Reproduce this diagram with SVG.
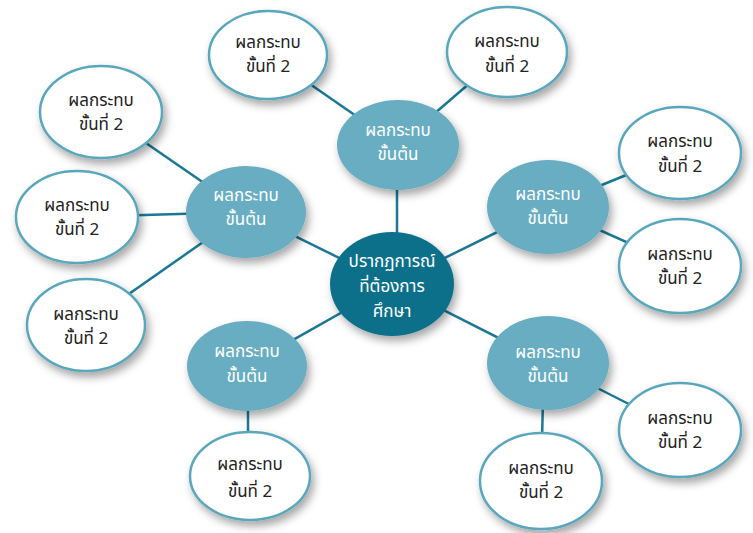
<svg xmlns="http://www.w3.org/2000/svg" width="753" height="533" viewBox="0 0 753 533">
  <defs>
    <filter id="sh" x="-30%" y="-30%" width="170%" height="170%">
      <feDropShadow dx="3" dy="5" stdDeviation="4" flood-color="#000" flood-opacity="0.35"/>
    </filter>
  </defs>
  <style>
    .edge { stroke: #1b7895; stroke-width: 2.5; fill: none; }
    .core { fill: #0f6f8b; filter: url(#sh); }
    .pri { fill: #67adc2; filter: url(#sh); }
    .sec { fill: #ffffff; stroke: #5aa7bd; stroke-width: 2.5; filter: url(#sh); }
    text { font-family: "Noto Sans Thai", "Noto Sans", "DejaVu Sans", sans-serif; font-size: 17px; text-anchor: middle; }
    .lt { fill: #ffffff; }
    .dk { fill: #222222; }
  </style>
  <rect width="753" height="533" fill="#ffffff"/>
  <g id="connectors">
    <line class="edge" x1="397" y1="185" x2="397" y2="236"/>
    <line class="edge" x1="392" y1="284" x2="246" y2="212"/>
    <line class="edge" x1="392" y1="284" x2="548" y2="207"/>
    <line class="edge" x1="392" y1="284" x2="247" y2="366"/>
    <line class="edge" x1="392" y1="284" x2="548" y2="363"/>
    <line class="edge" x1="398" y1="145" x2="268" y2="55"/>
    <line class="edge" x1="398" y1="145" x2="507" y2="51"/>
    <line class="edge" x1="246" y1="212" x2="101" y2="112"/>
    <line class="edge" x1="246" y1="212" x2="77" y2="217"/>
    <line class="edge" x1="246" y1="212" x2="86" y2="324"/>
    <line class="edge" x1="548" y1="207" x2="680" y2="153"/>
    <line class="edge" x1="548" y1="207" x2="680" y2="266"/>
    <line class="edge" x1="548" y1="363" x2="680" y2="430"/>
    <line class="edge" x1="543" y1="400" x2="542" y2="440"/>
    <line class="edge" x1="248" y1="400" x2="248" y2="440"/>
  </g>
  <g id="n-center">
    <ellipse class="core" cx="392" cy="284" rx="62" ry="52"/>
    <text class="lt" x="392" y="267">ปรากฏการณ์</text>
    <text class="lt" x="392" y="292">ที่ต้องการ</text>
    <text class="lt" x="392" y="317">ศึกษา</text>
  </g>
  <g id="p-top">
    <ellipse class="pri" cx="398" cy="145" rx="61" ry="45"/>
    <text class="lt" x="398" y="136">ผลกระทบ</text>
    <text class="lt" x="398" y="160">ขั้นต้น</text>
  </g>
  <g id="p-left">
    <ellipse class="pri" cx="246" cy="212" rx="60" ry="46"/>
    <text class="lt" x="246" y="201">ผลกระทบ</text>
    <text class="lt" x="246" y="225">ขั้นต้น</text>
  </g>
  <g id="p-right">
    <ellipse class="pri" cx="548" cy="207" rx="61" ry="47"/>
    <text class="lt" x="548" y="200">ผลกระทบ</text>
    <text class="lt" x="548" y="224">ขั้นต้น</text>
  </g>
  <g id="p-bottom-left">
    <ellipse class="pri" cx="247" cy="366" rx="60" ry="45"/>
    <text class="lt" x="247" y="357">ผลกระทบ</text>
    <text class="lt" x="247" y="382">ขั้นต้น</text>
  </g>
  <g id="p-bottom-right">
    <ellipse class="pri" cx="548" cy="363" rx="61" ry="47"/>
    <text class="lt" x="548" y="358">ผลกระทบ</text>
    <text class="lt" x="548" y="382">ขั้นต้น</text>
  </g>
  <g id="s-top-left">
    <ellipse class="sec" cx="268" cy="55" rx="59" ry="44"/>
    <text class="dk" x="268" y="48">ผลกระทบ</text>
    <text class="dk" x="268" y="72">ขั้นที่ 2</text>
  </g>
  <g id="s-top-right">
    <ellipse class="sec" cx="507" cy="52" rx="60" ry="45"/>
    <text class="dk" x="507" y="47">ผลกระทบ</text>
    <text class="dk" x="507" y="72">ขั้นที่ 2</text>
  </g>
  <g id="s-left-1">
    <ellipse class="sec" cx="101" cy="112" rx="61" ry="46"/>
    <text class="dk" x="101" y="106">ผลกระทบ</text>
    <text class="dk" x="101" y="130">ขั้นที่ 2</text>
  </g>
  <g id="s-left-2">
    <ellipse class="sec" cx="77" cy="217" rx="61" ry="46"/>
    <text class="dk" x="77" y="211">ผลกระทบ</text>
    <text class="dk" x="77" y="235">ขั้นที่ 2</text>
  </g>
  <g id="s-left-3">
    <ellipse class="sec" cx="86" cy="325" rx="59" ry="46"/>
    <text class="dk" x="86" y="320">ผลกระทบ</text>
    <text class="dk" x="86" y="344">ขั้นที่ 2</text>
  </g>
  <g id="s-right-1">
    <ellipse class="sec" cx="680" cy="153" rx="61" ry="46"/>
    <text class="dk" x="680" y="147">ผลกระทบ</text>
    <text class="dk" x="680" y="172">ขั้นที่ 2</text>
  </g>
  <g id="s-right-2">
    <ellipse class="sec" cx="680" cy="266" rx="61" ry="47"/>
    <text class="dk" x="680" y="260">ผลกระทบ</text>
    <text class="dk" x="680" y="284">ขั้นที่ 2</text>
  </g>
  <g id="s-bottom-right-1">
    <ellipse class="sec" cx="680" cy="430" rx="61" ry="47"/>
    <text class="dk" x="680" y="424">ผลกระทบ</text>
    <text class="dk" x="680" y="448">ขั้นที่ 2</text>
  </g>
  <g id="s-bottom-right-2">
    <ellipse class="sec" cx="541" cy="481" rx="61" ry="48"/>
    <text class="dk" x="541" y="474">ผลกระทบ</text>
    <text class="dk" x="541" y="498">ขั้นที่ 2</text>
  </g>
  <g id="s-bottom-left">
    <ellipse class="sec" cx="250" cy="476" rx="60" ry="44"/>
    <text class="dk" x="250" y="470">ผลกระทบ</text>
    <text class="dk" x="250" y="497">ขั้นที่ 2</text>
  </g>
</svg>
